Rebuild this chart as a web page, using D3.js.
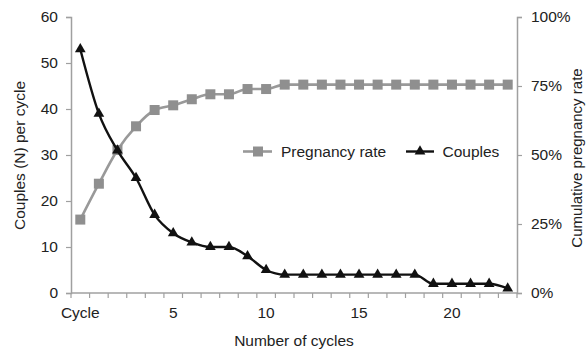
<!DOCTYPE html>
<html><head><meta charset="utf-8">
<script src="https://cdn.jsdelivr.net/npm/d3@7"></script>
<style>body{margin:0;background:#fff}svg{display:block;font-family:"Liberation Sans",Arial,sans-serif}</style>
</head><body><svg id="c" width="587" height="350"></svg>
<script>
const categories = ["Cycle","1","2","3","4","5","6","7","8","9","10","11","12","13","14","15","16","17","18","19","20","21","22","23"];
const couples = [53,39,31,25,17,13,11,10,10,8,5,4,4,4,4,4,4,4,4,2,2,2,2,1];
const pregnancyRate = [26.6,39.6,51.8,60.4,66.3,68.0,70.2,72.0,72.0,73.9,73.9,75.5,75.5,75.5,75.5,75.5,75.5,75.5,75.5,75.5,75.5,75.5,75.5,75.5];
const leftTicks = [0,10,20,30,40,50,60];
const rightTicks = [0,25,50,75,100];
const xLabelShown = ["Cycle","5","10","15","20"];

const svg = d3.select("#c");
const L = 71, R = 517, T = 17, B = 293;
const FS = "15.5px";
const x = d3.scaleBand().domain(categories).range([L, R]).padding(0);
const yL = d3.scaleLinear().domain([0,60]).range([B, T]);
const yR = d3.scaleLinear().domain([0,100]).range([B, T]);
const axisCol = "#a0a0a0", textCol = "#222", grayS = "#8f8f8f";

const gl = svg.append("g").attr("transform",`translate(${L},0)`)
  .call(d3.axisLeft(yL).tickValues(leftTicks).tickSize(5).tickPadding(8));
const gr = svg.append("g").attr("transform",`translate(${R},0)`)
  .call(d3.axisRight(yR).tickValues(rightTicks).tickSize(5).tickPadding(9).tickFormat(d=>d+"%"));
const gx = svg.append("g").attr("transform",`translate(0,${B})`)
  .call(d3.axisBottom(x).tickSize(0).tickPadding(14).tickFormat(d=>xLabelShown.includes(d)?d:""));
const bounds = categories.map(c=>x(c)).concat([R]);
svg.append("g").selectAll("line").data(bounds).join("line")
  .attr("x1",d=>d).attr("x2",d=>d).attr("y1",B).attr("y2",B+5)
  .attr("stroke",axisCol).attr("stroke-width",1.2);

[gl,gr,gx].forEach(g=>{
  g.select(".domain").attr("stroke",axisCol).attr("stroke-width",1.5);
  g.selectAll(".tick line").attr("stroke",axisCol).attr("stroke-width",1.2);
  g.selectAll("text").attr("fill",textCol).style("font-size",FS).style("font-family","'Liberation Sans',Arial,sans-serif");
});
gx.select(".domain").attr("d",`M${L},0H${R}`);

const cx = d => x(d) + x.bandwidth()/2;

const lineP = d3.line().x((d,i)=>cx(categories[i])).y(d=>yR(d)).curve(d3.curveMonotoneX);
svg.append("path").datum(pregnancyRate).attr("d",lineP).attr("fill","none").attr("stroke","#999").attr("stroke-width",2.6);
svg.append("g").selectAll("rect").data(pregnancyRate).join("rect")
  .attr("x",(d,i)=>cx(categories[i])-5).attr("y",d=>yR(d)-5).attr("width",10).attr("height",10).attr("fill",grayS);

const lineC = d3.line().x((d,i)=>cx(categories[i])).y(d=>yL(d)).curve(d3.curveMonotoneX);
svg.append("path").datum(couples).attr("d",lineC).attr("fill","none").attr("stroke","#111").attr("stroke-width",2.4);
const tri = d3.symbol().type(d3.symbolTriangle).size(50);
svg.append("g").selectAll("path").data(couples).join("path")
  .attr("d",tri).attr("transform",(d,i)=>`translate(${cx(categories[i])},${yL(d)})`).attr("fill","#111");

const ly = 151.5;
const lg = svg.append("g");
lg.append("line").attr("x1",243).attr("x2",272).attr("y1",ly).attr("y2",ly).attr("stroke","#999").attr("stroke-width",2.6);
lg.append("rect").attr("x",253).attr("y",ly-5).attr("width",10).attr("height",10).attr("fill",grayS);
lg.append("text").attr("x",281).attr("y",ly+5.5).text("Pregnancy rate").attr("fill",textCol).style("font-size",FS);
lg.append("line").attr("x1",406).attr("x2",434).attr("y1",ly).attr("y2",ly).attr("stroke","#111").attr("stroke-width",2.4);
lg.append("path").attr("d",tri).attr("transform",`translate(420,${ly})`).attr("fill","#111");
lg.append("text").attr("x",442.5).attr("y",ly+5.5).text("Couples").attr("fill",textCol).style("font-size",FS);

svg.append("text").attr("transform",`translate(25,155.5) rotate(-90)`).attr("text-anchor","middle")
  .text("Couples (N) per cycle").attr("fill",textCol).style("font-size",FS);
svg.append("text").attr("transform",`translate(582,158) rotate(-90)`).attr("text-anchor","middle")
  .text("Cumulative pregnancy rate").attr("fill",textCol).style("font-size","15px");
svg.append("text").attr("x",(L+R)/2).attr("y",346).attr("text-anchor","middle")
  .text("Number of cycles").attr("fill",textCol).style("font-size",FS);
</script></body></html>
